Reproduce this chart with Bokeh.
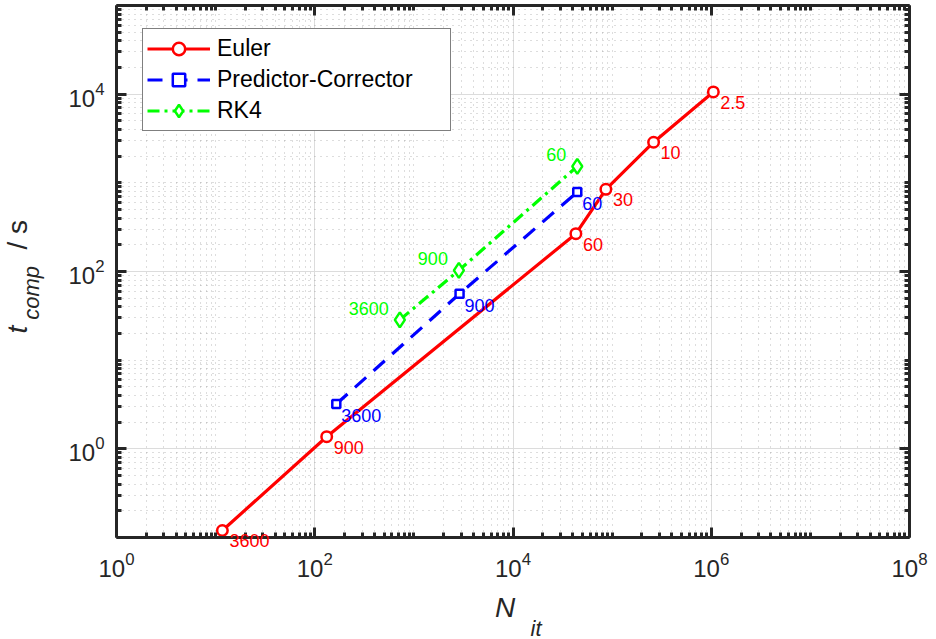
from bokeh.plotting import figure
from bokeh.models import (LogAxis, FixedTicker, Range1d, Legend, LegendItem, Title,
                          CustomJSTickFormatter)
from bokeh.embed import file_html
from bokeh.resources import INLINE
from bokeh.core.properties import value

# Number of iterations vs. computation time for three integrators,
# each point tagged with its time step
euler_n = [11.7, 132, 43100, 86500, 262000, 1.05e6]
euler_t = [0.12, 1.37, 267, 845, 2870, 10600]
euler_dt = ["3600", "900", "60", "30", "10", "2.5"]

pc_n = [165, 2890, 44500]
pc_t = [3.2, 56, 787]
pc_dt = ["3600", "900", "60"]

rk4_n = [722, 2845, 44500]
rk4_t = [28.5, 103, 1535]
rk4_dt = ["3600", "900", "60"]

x_major = [1e0, 1e2, 1e4, 1e6, 1e8]
y_major = [1e0, 1e2, 1e4]

FONT = "Liberation Sans"
AX = "#262626"
NBSP = "\u00a0"

x_minor = [k * 10.0 ** e for e in range(0, 8) for k in range(1, 10) if k * 10.0 ** e not in x_major]
y_minor = [k * 10.0 ** e for e in range(-1, 5) for k in range(1, 10) if k * 10.0 ** e not in y_major] + [1e5]

p = figure(width=936, height=639, x_axis_type="log", y_axis_type="log",
           x_range=Range1d(1, 1e8), y_range=Range1d(0.1, 1e5),
           output_backend="svg", toolbar_location=None,
           min_border_left=116, min_border_right=27, min_border_top=5, min_border_bottom=102)
p.outline_line_color = None
p.background_fill_color = "white"

xt = FixedTicker(ticks=x_major, minor_ticks=x_minor)
yt = FixedTicker(ticks=y_major, minor_ticks=y_minor)


def style_axis(ax):
    ax.axis_line_color = AX
    ax.axis_line_width = 3
    ax.major_tick_line_color = AX
    ax.major_tick_line_width = 3
    ax.major_tick_in = 10
    ax.major_tick_out = 0
    ax.minor_tick_line_color = AX
    ax.minor_tick_line_width = 3
    ax.minor_tick_in = 5
    ax.minor_tick_out = 0
    ax.major_label_text_font = FONT
    ax.major_label_text_color = AX
    ax.major_label_text_font_size = "24px"
    ax.axis_label_text_font = FONT
    ax.axis_label_text_color = AX
    ax.axis_label_text_font_style = "italic"


p.xaxis.ticker = xt
p.yaxis.ticker = yt
style_axis(p.xaxis[0])
style_axis(p.yaxis[0])
p.xaxis.major_label_standoff = 14
p.yaxis.major_label_standoff = 12

# axis titles: N_it below, t_comp / s on the left
p.xaxis.axis_label = "N" + NBSP * 2
p.xaxis.axis_label_text_font_size = "28px"
p.xaxis.axis_label_standoff = 12
p.yaxis.axis_label = "comp" + NBSP * 7
p.yaxis.axis_label_text_font_size = "22px"
p.yaxis.axis_label_standoff = 21


def title(text, side, size, style, offset, standoff, valign):
    p.add_layout(Title(text=text, align="left", offset=offset, standoff=standoff,
                       vertical_align=valign, text_font=FONT, text_font_size=size,
                       text_font_style=style, text_color=AX), side)


title("it", "below", "22px", "italic", 414, -20, "top")
title("t", "left", "28px", "italic", 204, -33, "bottom")
title("/ s", "left", "28px", "normal", 288, -33, "bottom")

# box edges: unlabeled axes on top and right
blank = CustomJSTickFormatter(code="return ''")
top = LogAxis(ticker=xt, formatter=blank, major_label_standoff=0)
right = LogAxis(ticker=yt, formatter=blank, major_label_standoff=0)
style_axis(top)
style_axis(right)
p.add_layout(top, "above")
p.add_layout(right, "right")

for g, t in ((p.xgrid, xt), (p.ygrid, yt)):
    g.ticker = t
    g.grid_line_color = "#dcdcdc"
    g.grid_line_width = 1
    g.minor_grid_line_color = "#8c8c8c"
    g.minor_grid_line_alpha = 0.6
    g.minor_grid_line_dash = "1 5"
    g.minor_grid_line_width = 1

# series
eu_line = p.line(euler_n, euler_t, color="#ff0000", line_width=3.2)
eu_mark = p.scatter(euler_n, euler_t, marker="circle", size=10.5, line_color="#ff0000",
                    line_width=2.5, fill_color="white")
pc_line = p.line(pc_n, pc_t, color="#0000ff", line_width=3.2, line_dash="15 10")
pc_mark = p.scatter(pc_n, pc_t, marker="square", size=8, line_color="#0000ff",
                    line_width=2.5, fill_color="white")
rk_line = p.line(rk4_n, rk4_t, color="#00ff00", line_width=3.2, line_dash="12 5 3 5")
rk_mark = p.scatter(rk4_n, rk4_t, marker="diamond", size=15, line_color="#00ff00",
                    line_width=2.5, fill_color="white")

# step-size annotations next to each point (overlay level so they may cross the frame)
p.text(x=euler_n, y=euler_t, text=euler_dt, text_color="#ff0000", text_font=value(FONT),
       text_font_size="18px", text_align="left", text_baseline="top", x_offset=7, y_offset=4,
       level="overlay")
p.text(x=pc_n, y=pc_t, text=pc_dt, text_color="#0000ff", text_font=value(FONT),
       text_font_size="18px", text_align="left", text_baseline="top", x_offset=5, y_offset=5,
       level="overlay")
p.text(x=rk4_n, y=rk4_t, text=rk4_dt, text_color="#00ff00", text_font=value(FONT),
       text_font_size="18px", text_align="right", text_baseline="bottom", x_offset=-11, y_offset=-5,
       level="overlay")

legend = Legend(items=[
    LegendItem(label="Euler", renderers=[eu_line, eu_mark]),
    LegendItem(label="Predictor-Corrector", renderers=[pc_line, pc_mark]),
    LegendItem(label="RK4", renderers=[rk_line, rk_mark]),
], location=(26, 406))
legend.label_text_font = FONT
legend.label_text_font_size = "23px"
legend.label_text_color = "black"
legend.border_line_color = "black"
legend.border_line_width = 1
legend.background_fill_color = "white"
legend.background_fill_alpha = 1
legend.padding = 4
legend.spacing = 0
legend.glyph_height = 31
legend.glyph_width = 63
legend.label_standoff = 7
legend.label_width = 229
legend.margin = 0
p.add_layout(legend, "center")

open("out.html", "w").write(file_html(p, INLINE))
